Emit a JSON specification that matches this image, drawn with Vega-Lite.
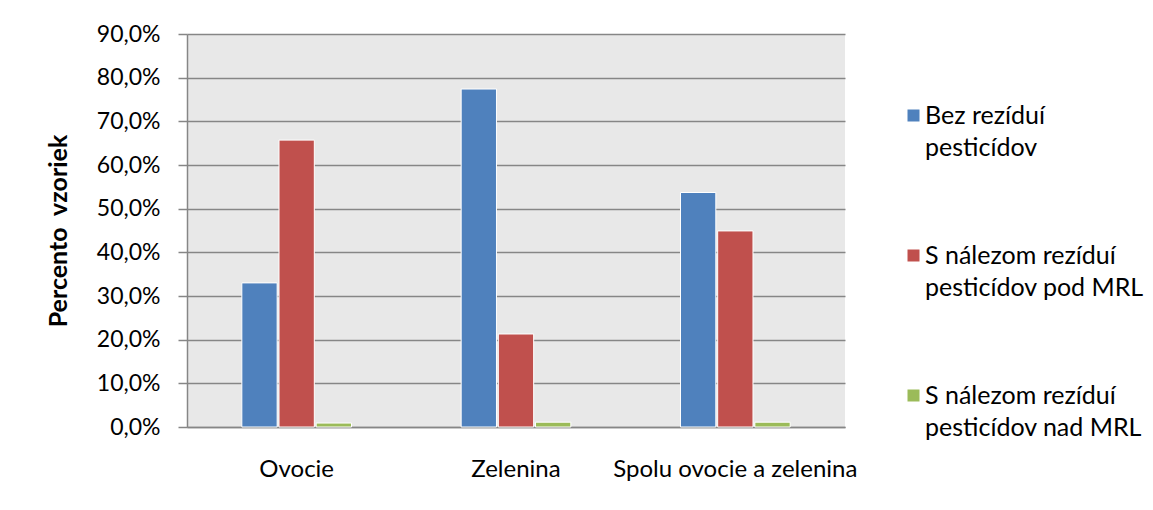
{
  "$schema": "https://vega.github.io/schema/vega-lite/v6.json",
  "width": 658,
  "height": 393,
  "autosize": {"type": "none"},
  "padding": {"left": 187, "top": 34, "right": 308, "bottom": 83},
  "background": "white",
  "config": {
    "font": "Lato",
    "view": {"fill": "#e8e8e8", "stroke": null},
    "style": {"guide-label": {"lineHeight": 32}}
  },
  "data": {
    "values": [
      {"kategoria": "Ovocie", "skupina": "Bez rezíduí pesticídov", "percento": 33.0},
      {"kategoria": "Ovocie", "skupina": "S nálezom rezíduí pesticídov pod MRL", "percento": 65.7},
      {"kategoria": "Ovocie", "skupina": "S nálezom rezíduí pesticídov nad MRL", "percento": 0.9},
      {"kategoria": "Zelenina", "skupina": "Bez rezíduí pesticídov", "percento": 77.4},
      {"kategoria": "Zelenina", "skupina": "S nálezom rezíduí pesticídov pod MRL", "percento": 21.3},
      {"kategoria": "Zelenina", "skupina": "S nálezom rezíduí pesticídov nad MRL", "percento": 1.1},
      {"kategoria": "Spolu ovocie a zelenina", "skupina": "Bez rezíduí pesticídov", "percento": 53.7},
      {"kategoria": "Spolu ovocie a zelenina", "skupina": "S nálezom rezíduí pesticídov pod MRL", "percento": 44.9},
      {"kategoria": "Spolu ovocie a zelenina", "skupina": "S nálezom rezíduí pesticídov nad MRL", "percento": 1.1}
    ]
  },
  "mark": {"type": "bar", "stroke": "white", "strokeWidth": 1},
  "encoding": {
    "x": {
      "field": "kategoria",
      "type": "nominal",
      "sort": ["Ovocie", "Zelenina", "Spolu ovocie a zelenina"],
      "scale": {"paddingInner": 0.5, "paddingOuter": 0.25},
      "axis": {
        "title": null,
        "labelAngle": 0,
        "labelFontSize": 24,
        "labelColor": "black",
        "labelPadding": 30,
        "ticks": false,
        "domainColor": "#868686",
        "domainWidth": 1.5,
        "labelLimit": 400
      }
    },
    "xOffset": {
      "field": "skupina",
      "type": "nominal",
      "sort": ["Bez rezíduí pesticídov", "S nálezom rezíduí pesticídov pod MRL", "S nálezom rezíduí pesticídov nad MRL"],
      "scale": {"paddingOuter": 0, "paddingInner": 0.05}
    },
    "y": {
      "field": "percento",
      "type": "quantitative",
      "scale": {"domain": [0, 90], "nice": false},
      "axis": {
        "title": "Percento\u00a0 vzoriek",
        "titleFontSize": 25,
        "titleFontWeight": "bold",
        "titleColor": "black",
        "titlePadding": 25,
        "values": [0, 10, 20, 30, 40, 50, 60, 70, 80, 90],
        "labelExpr": "replace(format(datum.value, '.1f'), '.', ',') + '%'",
        "labelFontSize": 23,
        "labelColor": "black",
        "labelPadding": 18,
        "tickSize": 9,
        "tickColor": "#868686",
        "tickWidth": 1.5,
        "gridColor": "#868686",
        "gridWidth": 1.5,
        "domainColor": "#868686",
        "domainWidth": 1.5
      }
    },
    "color": {
      "field": "skupina",
      "type": "nominal",
      "sort": ["Bez rezíduí pesticídov", "S nálezom rezíduí pesticídov pod MRL", "S nálezom rezíduí pesticídov nad MRL"],
      "scale": {"range": ["#4f81bd", "#c0504d", "#9bbb59"]},
      "legend": {
        "title": null,
        "orient": "none",
        "legendX": 714,
        "legendY": 69,
        "symbolType": "square",
        "symbolSize": 144,
        "symbolStrokeWidth": 0,
        "labelFontSize": 25,
        "labelColor": "black",
        "labelOffset": -1,
        "labelLimit": 300,
        "rowPadding": 82,
        "labelExpr": "datum.label == 'Bez rezíduí pesticídov' ? ['Bez rezíduí', 'pesticídov'] : datum.label == 'S nálezom rezíduí pesticídov pod MRL' ? ['S nálezom rezíduí', 'pesticídov pod MRL'] : ['S nálezom rezíduí', 'pesticídov nad MRL']"
      }
    }
  }
}
